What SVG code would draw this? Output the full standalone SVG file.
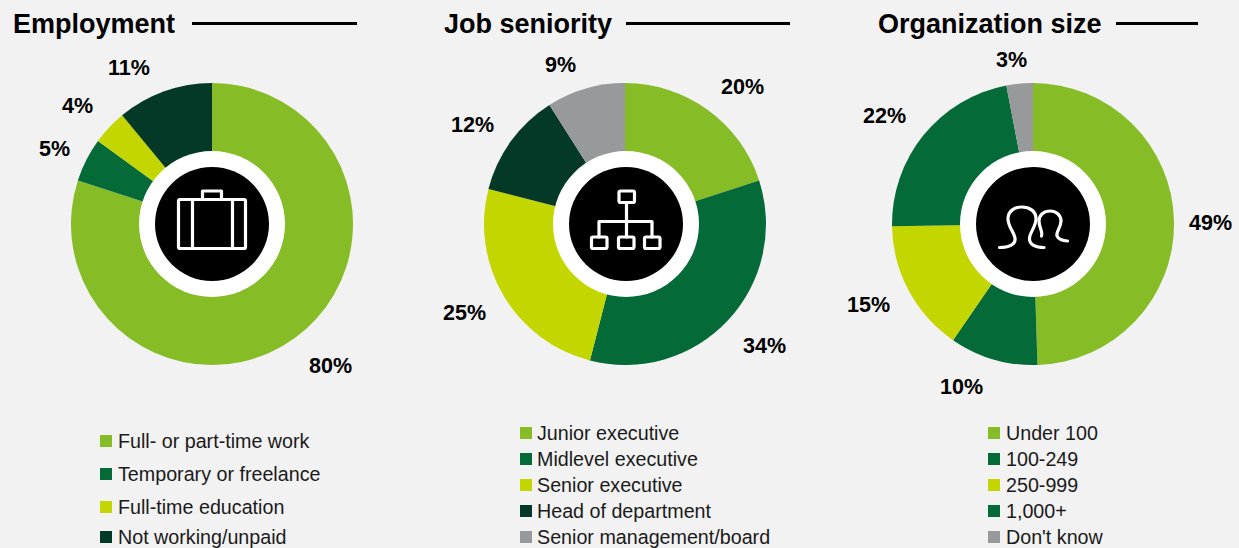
<svg xmlns="http://www.w3.org/2000/svg" width="1239" height="548" viewBox="0 0 1239 548">
<style>
.title{font-family:"Liberation Sans",Arial,sans-serif;font-weight:bold;font-size:27px;fill:#000}
.pct{font-family:"Liberation Sans",Arial,sans-serif;font-weight:bold;font-size:21.5px;fill:#000}
.leg{font-family:"Liberation Sans",Arial,sans-serif;font-size:19.7px;fill:#1a1a1a}
.rule{stroke:#000;stroke-width:3}
.c1{fill:#86BC25}.c2{fill:#046A38}.c3{fill:#C4D600}.c4{fill:#043927}.c5{fill:#97999B}
.ring{fill:#fff}.hub{fill:#000}
.ico{fill:none;stroke:#fff;stroke-width:3.2;stroke-linejoin:round;stroke-linecap:round}
</style>
<rect width="1239" height="548" fill="#F2F2F2"/>

<g id="employment">
<text class="title" x="13" y="33">Employment</text>
<line class="rule" x1="192" y1="23.5" x2="357" y2="23.5"/>
<path class="c1" d="M212,224 L212,83 A141,141 0 1 1 77.9,180.43 Z"/>
<path class="c2" d="M212,224 L77.9,180.43 A141,141 0 0 1 97.93,141.12 Z"/>
<path class="c3" d="M212,224 L97.93,141.12 A141,141 0 0 1 122.12,115.36 Z"/>
<path class="c4" d="M212,224 L122.12,115.36 A141,141 0 0 1 212,83 Z"/>
<circle class="ring" cx="212" cy="224" r="73"/>
<circle class="hub" cx="212" cy="224" r="57"/>
<g class="ico">
<rect x="178.5" y="199.5" width="67" height="49" rx="1.5"/>
<path d="M202.5,199.5 V191 H221.5 V199.5"/>
<line x1="192.5" y1="199.5" x2="192.5" y2="248.5"/>
<line x1="232.5" y1="199.5" x2="232.5" y2="248.5"/>
</g>
<text class="pct" x="108" y="75">11%</text>
<text class="pct" x="62" y="113">4%</text>
<text class="pct" x="39" y="156">5%</text>
<text class="pct" x="309" y="373">80%</text>
</g>

<g id="job-seniority">
<text class="title" x="444" y="33">Job seniority</text>
<line class="rule" x1="626" y1="23.5" x2="790" y2="23.5"/>
<path class="c1" d="M625,224 L625,83 A141,141 0 0 1 759.1,180.43 Z"/>
<path class="c2" d="M625,224 L759.1,180.43 A141,141 0 0 1 589.93,360.57 Z"/>
<path class="c3" d="M625,224 L589.93,360.57 A141,141 0 0 1 488.43,188.93 Z"/>
<path class="c4" d="M625,224 L488.43,188.93 A141,141 0 0 1 549.45,104.95 Z"/>
<path class="c5" d="M625,224 L549.45,104.95 A141,141 0 0 1 625,83 Z"/>
<circle class="ring" cx="626" cy="224" r="73"/>
<circle class="hub" cx="626" cy="224" r="57"/>
<g class="ico">
<rect x="619" y="191" width="15.5" height="11.5" rx="1.5"/>
<line x1="626.5" y1="202.5" x2="626.5" y2="237"/>
<path d="M599,237 V221.5 H652 V237"/>
<rect x="591.5" y="237" width="15.5" height="11.5" rx="1.5"/>
<rect x="618.5" y="237" width="15.5" height="11.5" rx="1.5"/>
<rect x="644.5" y="237" width="15.5" height="11.5" rx="1.5"/>
</g>
<text class="pct" x="545" y="72">9%</text>
<text class="pct" x="721" y="94">20%</text>
<text class="pct" x="451" y="132">12%</text>
<text class="pct" x="443" y="320">25%</text>
<text class="pct" x="743" y="353">34%</text>
</g>

<g id="organization-size">
<text class="title" x="878" y="33">Organization size</text>
<line class="rule" x1="1116" y1="23.5" x2="1198" y2="23.5"/>
<path class="c1" d="M1033,224 L1033,83 A141,141 0 0 1 1037.47,364.93 Z"/>
<path class="c2" d="M1033,224 L1037.47,364.93 A141,141 0 0 1 953.04,340.14 Z"/>
<path class="c3" d="M1033,224 L953.04,340.14 A141,141 0 0 1 892.02,226.24 Z"/>
<path class="c2" d="M1033,224 L892.02,226.24 A141,141 0 0 1 1006.32,85.55 Z"/>
<path class="c5" d="M1033,224 L1006.32,85.55 A141,141 0 0 1 1033,83 Z"/>
<circle class="ring" cx="1033" cy="224" r="73"/>
<circle class="hub" cx="1033" cy="224" r="57"/>
<g class="ico" stroke-width="3.5">
<path d="M999.5,247.5 C1008,247.5 1016,245 1015,238 C1014,232 1007.5,226 1008,218 C1008.5,211 1014.5,207 1022,207 C1029.5,207 1035.5,211 1036,218 C1036.5,226 1030,232 1029.5,238 C1029,245 1036,247.5 1044,247.5"/>
<path d="M1041.5,236 C1043,232 1039,227 1039,221 C1039,215 1044,211 1050,211 C1056,211 1061,215 1061,221 C1061,228 1055.5,232 1057,236 C1058.5,240 1063,240.5 1067.5,241"/>
</g>
<text class="pct" x="996" y="67">3%</text>
<text class="pct" x="863" y="123">22%</text>
<text class="pct" x="1189" y="230">49%</text>
<text class="pct" x="847" y="312">15%</text>
<text class="pct" x="940" y="394">10%</text>
</g>

<g id="legend-employment">
<rect class="c1" x="100" y="435" width="12" height="12"/>
<text class="leg" x="118" y="448">Full- or part-time work</text>
<rect class="c2" x="100" y="468" width="12" height="12"/>
<text class="leg" x="118" y="481">Temporary or freelance</text>
<rect class="c3" x="100" y="501" width="12" height="12"/>
<text class="leg" x="118" y="514">Full-time education</text>
<rect class="c4" x="100" y="531" width="12" height="12"/>
<text class="leg" x="118" y="544">Not working/unpaid</text>
</g>

<g id="legend-job">
<rect class="c1" x="520" y="427" width="12" height="12"/>
<text class="leg" x="537" y="440">Junior executive</text>
<rect class="c2" x="520" y="453" width="12" height="12"/>
<text class="leg" x="537" y="466">Midlevel executive</text>
<rect class="c3" x="520" y="479" width="12" height="12"/>
<text class="leg" x="537" y="492">Senior executive</text>
<rect class="c4" x="520" y="505" width="12" height="12"/>
<text class="leg" x="537" y="518">Head of department</text>
<rect class="c5" x="520" y="531" width="12" height="12"/>
<text class="leg" x="537" y="544">Senior management/board</text>
</g>

<g id="legend-org">
<rect class="c1" x="988" y="427" width="12" height="12"/>
<text class="leg" x="1006" y="440">Under 100</text>
<rect class="c2" x="988" y="453" width="12" height="12"/>
<text class="leg" x="1006" y="466">100-249</text>
<rect class="c3" x="988" y="479" width="12" height="12"/>
<text class="leg" x="1006" y="492">250-999</text>
<rect class="c2" x="988" y="505" width="12" height="12"/>
<text class="leg" x="1006" y="518">1,000+</text>
<rect class="c5" x="988" y="531" width="12" height="12"/>
<text class="leg" x="1006" y="544">Don't know</text>
</g>
</svg>
